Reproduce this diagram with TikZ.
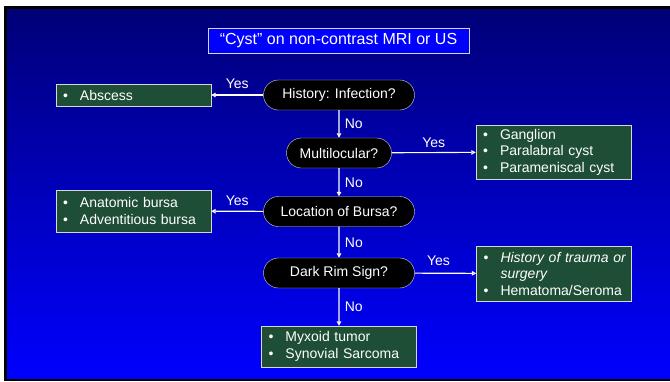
\documentclass[tikz,border=0pt]{standalone}
\usepackage{fontspec}
\setmainfont{Liberation Sans}
\usetikzlibrary{arrows.meta}
\usetikzlibrary{shapes.misc}

\definecolor{slidetop}{RGB}{0,0,120}
\definecolor{slidebottom}{RGB}{0,0,255}
\definecolor{boxgreen}{RGB}{30,78,54}
\definecolor{rimgray}{RGB}{215,215,215}

\newcommand{\bitem}[1]{\makebox[17pt][l]{\textbullet}\mbox{#1}}

\begin{document}
\begin{tikzpicture}[x=1pt, y=-1pt, font=\fontsize{14}{16.5}\selectfont, text=white,
        title_style/.style={rectangle,draw=rimgray,fill=blue,minimum width=261pt,minimum height=25pt,inner sep=0pt,font=\fontsize{16}{19}\selectfont},
        question_style/.style={rounded rectangle,draw=rimgray,fill=black,minimum height=30pt,inner sep=0pt},
        answer_style/.style={rectangle,draw=rimgray,fill=boxgreen,text width=141pt,inner xsep=7pt,inner ysep=0pt,align=left},
        edge_style/.style={draw=white,line width=1.1pt,-{Triangle[length=4.5pt,width=4.5pt]}}]

        % slide background
        \useasboundingbox (0,0) rectangle (670,381);
        \fill[white] (0,0) rectangle (670,381);
        \fill[black] (4,6) rectangle (670,381);
        \shade[top color=slidetop,bottom color=slidebottom] (7,9) rectangle (670,378);

        \node [title_style](t0) at (338.5,40.5) {“Cyst” on non-contrast MRI or US};

        \node [question_style,minimum width=151pt](q1) at (339,95) {History: Infection?};
        \node [question_style,minimum width=105pt](q2) at (339,153) {Multilocular?};
        \node [question_style,minimum width=151pt](q3) at (339,211.5) {Location of Bursa?};
        \node [question_style,minimum width=151pt](q4) at (339,273) {Dark Rim Sign?};

        \node [answer_style,minimum height=22pt](a1) at (133.5,95) {\bitem{Abscess}};
        \node [answer_style,minimum height=54pt](a2) at (553.5,152) {\bitem{Ganglion}\\ \bitem{Paralabral cyst}\\ \bitem{Parameniscal cyst}};
        \node [answer_style,minimum height=42pt](a3) at (133.5,211) {\bitem{Anatomic bursa}\\ \bitem{Adventitious bursa}};
        \node [answer_style,minimum height=55pt](a4) at (554,273.5) {\bitem{\textit{History of trauma or}}\\ \hspace*{17pt}\textit{surgery}\\ \bitem{Hematoma/Seroma}};
        \node [answer_style,minimum height=41pt](a5) at (339,346.5) {\bitem{Myxoid tumor}\\ \bitem{Synovial Sarcoma}};

        \draw [edge_style] (q1) edge node[above=2pt]{Yes} (a1);
        \draw [edge_style] (q1) edge node[right=2pt]{No} (q2);
        \draw [edge_style] (q2) edge node[above=1pt]{Yes} (a2);
        \draw [edge_style] (q2) edge node[right=2pt]{No} (q3);
        \draw [edge_style] (q3) edge node[above=2pt]{Yes} (a3);
        \draw [edge_style] (q3) edge node[right=2pt]{No} (q4);
        \draw [edge_style] (q4) edge node[above=4pt,xshift=-7pt]{Yes} (a4);
        \draw [edge_style] (q4) edge node[right=2pt]{No} (a5);
\end{tikzpicture}
\end{document}
